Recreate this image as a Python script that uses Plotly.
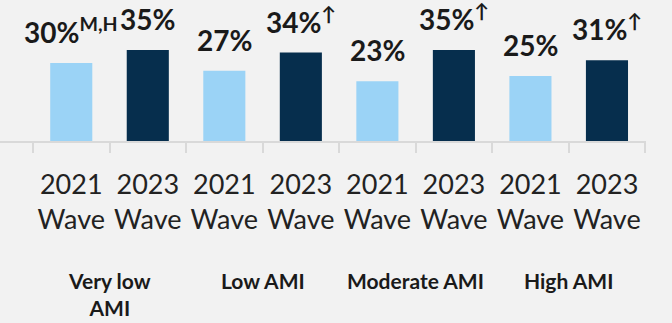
import plotly.graph_objects as go

# ---- data ----
categories = ["VL-2021", "VL-2023", "L-2021", "L-2023", "M-2021", "M-2023", "H-2021", "H-2023"]
tick_labels = ["2021<br>Wave", "2023<br>Wave"] * 4
values = [30, 35, 27, 34, 23, 35, 25, 31]
suffixes = ["M,H", "", "", "↑", "", "↑", "", "↑"]
groups = ["Very low<br>AMI", "Low AMI", "Moderate AMI", "High AMI"]
group_centers = [0.5, 2.5, 4.5, 6.5]
colors = ["#9bd3f6", "#062e4d"] * 4

FONT = "Lato"

fig = go.Figure()
fig.add_trace(go.Bar(
    x=categories, y=values, marker=dict(color=colors, line=dict(width=0)),
    width=0.55, hoverinfo="skip",
))

annotations = []
for c, v, s in zip(categories, values, suffixes):
    txt = f"{v}%" + (f"<sup>{s}</sup>" if s else "")
    annotations.append(dict(
        x=c, y=v, xref="x", yref="y", text=txt, showarrow=False,
        xanchor="center", yanchor="bottom", yshift=12,
        font=dict(family=FONT, size=28, color="#1a1a1a", weight="bold"),
    ))
for g, gx in zip(groups, group_centers):
    annotations.append(dict(
        x=gx, y=-0.89, xref="x", yref="paper", text=f"<b>{g}</b>", showarrow=False,
        xanchor="center", yanchor="top", align="center",
        font=dict(family=FONT, size=21, color="#1a1a1a"),
    ))

fig.update_layout(
    width=672, height=323,
    margin=dict(l=0, r=26, t=0, b=182),
    paper_bgcolor="#f2f2f2", plot_bgcolor="#f2f2f2",
    showlegend=False,
    annotations=annotations,
    xaxis=dict(
        type="category", range=[-0.931, 7.51],
        tickmode="array", tickvals=categories, ticktext=tick_labels,
        tickson="boundaries", ticks="outside", ticklen=10, tickwidth=1.5,
        tickcolor="#d9d9d9", showline=True, linecolor="#d9d9d9", linewidth=1.5,
        showgrid=False, zeroline=False, ticklabelstandoff=19, tickangle=0,
        tickfont=dict(family=FONT, size=27, color="#222222"),
    ),
    yaxis=dict(range=[0, 54.2], visible=False, showgrid=False, zeroline=False),
)

fig.write_html("out.html")
